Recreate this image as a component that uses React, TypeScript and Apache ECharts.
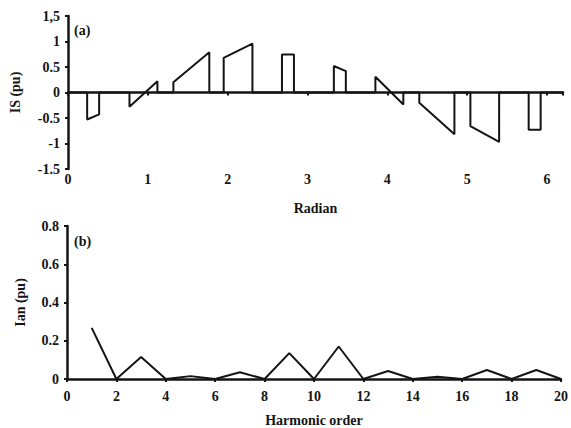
import React, { useEffect, useRef } from "react";
import * as echarts from "echarts";

// Top chart: stepped waveform, [radian, IS (pu)]
const waveX = [
  0, 0.24, 0.24, 0.39, 0.39,
  0.77, 0.77, 1.12, 1.12,
  1.32, 1.32, 1.77, 1.77,
  1.95, 1.95, 2.31, 2.31,
  2.68, 2.68, 2.83, 2.83,
  3.33, 3.33, 3.48, 3.48,
  3.85, 3.85, 4.2, 4.2,
  4.4, 4.4, 4.84, 4.84,
  5.04, 5.04, 5.4, 5.4,
  5.77, 5.77, 5.92, 5.92,
  6.2,
];
const waveY = [
  0, 0, -0.53, -0.43, 0,
  0, -0.28, 0.22, 0,
  0, 0.2, 0.79, 0,
  0, 0.68, 0.96, 0,
  0, 0.745, 0.745, 0,
  0, 0.52, 0.42, 0,
  0, 0.31, -0.235, 0,
  0, -0.2, -0.82, 0,
  0, -0.66, -0.97, 0,
  0, -0.73, -0.73, 0,
  0,
];

// Bottom chart: harmonic spectrum
const harmonicOrder = [1, 2, 3, 4, 5, 6, 7, 8, 9, 10, 11, 12, 13, 14, 15, 16, 17, 18, 19, 20];
const harmonicAmp = [0.267, 0, 0.115, 0, 0.015, 0, 0.035, 0, 0.135, 0, 0.17, 0, 0.042, 0, 0.012, 0, 0.047, 0, 0.047, 0];

const topYTicks: Record<string, string> = {
  "1.5": "1,5",
  "1": "1",
  "0.5": "0.5",
  "0": "0",
  "-0.5": "-0.5",
  "-1": "-1",
  "-1.5": "-1.5",
};

const FONT = "Liberation Serif";
const INK = "#141414";

export default function App() {
  const ref = useRef<HTMLDivElement>(null);
  useEffect(() => {
    if (!ref.current) return;
    const chart = echarts.init(ref.current, null, { renderer: "svg" });
    const axisLine = { show: true, lineStyle: { color: INK, width: 2.5 } };
    const axisTick = { show: true, length: 3, lineStyle: { color: INK, width: 2 } };
    const axisLabel = {
      color: INK,
      fontFamily: FONT,
      fontWeight: "bold" as const,
      fontSize: 14,
      margin: 7,
    };
    const nameStyle = {
      color: INK,
      fontFamily: FONT,
      fontWeight: "bold" as const,
      fontSize: 14,
    };
    chart.setOption({
      animation: false,
      backgroundColor: "#ffffff",
      grid: [
        { left: 67, right: 8, top: 16, bottom: 259 },
        { left: 67, right: 7, top: 226, bottom: 49 },
      ],
      xAxis: [
        {
          gridIndex: 0,
          type: "value",
          min: 0,
          max: 6.2,
          interval: 1,
          axisLine,
          axisTick,
          axisLabel: {
            ...axisLabel,
            margin: 3,
            formatter: (v: number) => (Math.abs(v - Math.round(v)) < 1e-6 && v <= 6 ? String(Math.round(v)) : ""),
          },
          splitLine: { show: false },
          name: "Radian",
          nameLocation: "middle",
          nameGap: 32,
          nameTextStyle: nameStyle,
        },
        {
          gridIndex: 1,
          type: "value",
          min: 0,
          max: 20,
          interval: 2,
          axisLine,
          axisTick,
          axisLabel: { ...axisLabel, margin: 10 },
          splitLine: { show: false },
          name: "Harmonic order",
          nameLocation: "middle",
          nameGap: 34,
          nameTextStyle: nameStyle,
        },
      ],
      yAxis: [
        {
          gridIndex: 0,
          type: "value",
          min: -1.5,
          max: 1.5,
          interval: 0.5,
          axisLine: { ...axisLine, onZero: false },
          axisTick,
          axisLabel: {
            ...axisLabel,
            margin: 8,
            formatter: (v: number) => topYTicks[String(Math.round(v * 10) / 10)] ?? String(v),
          },
          splitLine: { show: false },
          name: "IS (pu)",
          nameLocation: "middle",
          nameGap: 46,
          nameTextStyle: nameStyle,
        },
        {
          gridIndex: 1,
          type: "value",
          min: 0,
          max: 0.8,
          interval: 0.2,
          axisLine,
          axisTick,
          axisLabel: { ...axisLabel, margin: 8 },
          splitLine: { show: false },
          name: "Ian (pu)",
          nameLocation: "middle",
          nameGap: 40,
          nameTextStyle: nameStyle,
        },
      ],
      series: [
        {
          type: "line",
          xAxisIndex: 0,
          yAxisIndex: 0,
          data: waveX.map((x, i) => [x, waveY[i]]),
          showSymbol: false,
          symbol: "none",
          lineStyle: { color: INK, width: 2 },
        },
        {
          type: "line",
          xAxisIndex: 1,
          yAxisIndex: 1,
          data: harmonicOrder.map((h, i) => [h, harmonicAmp[i]]),
          showSymbol: false,
          symbol: "none",
          lineStyle: { color: INK, width: 2 },
        },
      ],
      graphic: [
        {
          type: "text",
          left: 74,
          top: 23,
          style: { text: "(a)", fill: INK, font: `bold 14px "${FONT}"` },
        },
        {
          type: "text",
          left: 74,
          top: 234,
          style: { text: "(b)", fill: INK, font: `bold 14px "${FONT}"` },
        },
      ],
    });
    return () => chart.dispose();
  }, []);
  return (
    <div
      ref={ref}
      style={{ position: "absolute", left: 0, top: 0, width: 571, height: 428 }}
    />
  );
}
